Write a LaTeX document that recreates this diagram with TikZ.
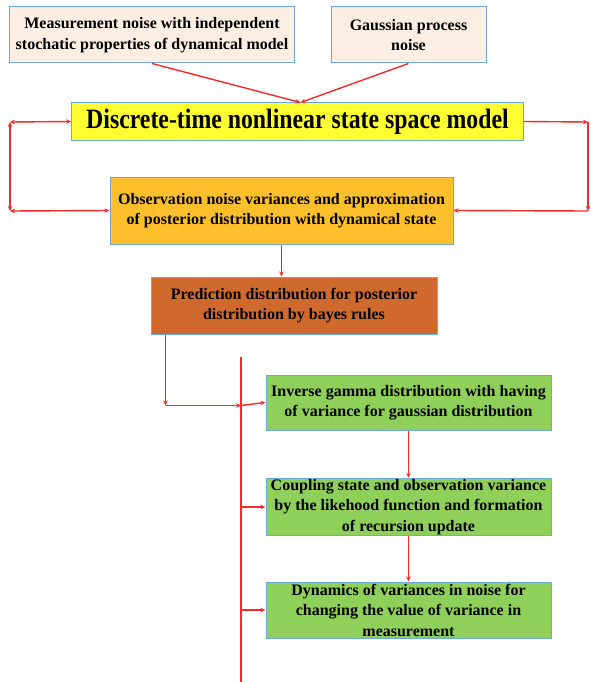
\documentclass[tikz,border=0pt]{standalone}
\usepackage{fontspec}
\setmainfont{Liberation Serif}
\newfontfamily\headfont{Liberation Serif}[FakeStretch=0.85]
\usepackage{tikz}
\usetikzlibrary{positioning,calc,arrows.meta}

\definecolor{edge}{HTML}{6FA8DC}
\definecolor{peach}{HTML}{FCEEE2}
\definecolor{lemon}{HTML}{FFFF33}
\definecolor{gold}{HTML}{FEBF2C}
\definecolor{rust}{HTML}{D06A2C}
\definecolor{leaf}{HTML}{8FD05A}
\definecolor{wire}{HTML}{F52A2A}

\tikzset{
  box/.style={draw=edge, line width=1pt, align=center, inner sep=1pt,
    font=\bfseries\fontsize{16}{20.5}\selectfont},
  wr/.style={draw=wire, line width=1.4pt},
  >={Stealth[length=5pt,width=4.5pt]}
}

\begin{document}
\begin{tikzpicture}[x=1pt,y=-1pt]
    \useasboundingbox (0,0) rectangle (590,682);
    \node[box, fill=peach, minimum width=285, minimum height=56] (meas) at (152,35)
      {Measurement noise with independent\\stochatic properties of dynamical model};
    \node[box, fill=peach, minimum width=155, minimum height=56] (gauss) at (408.5,35)
      {Gaussian process\\noise};
    \node[box, fill=lemon, minimum width=452, minimum height=37, font=\headfont\bfseries\fontsize{28}{30}\selectfont] (dtm) at (297.5,121.5)
      {Discrete-time nonlinear state space model};
    \node[box, fill=gold, minimum width=343, minimum height=67] (obs) at (281.5,210.5)
      {Observation noise variances and approximation\\of posterior distribution with dynamical state};
    \node[box, fill=rust, minimum width=286, minimum height=57] (pred) at (294,305.5)
      {Prediction distribution for posterior\\distribution by bayes rules};
    \node[box, fill=leaf, minimum width=285, minimum height=55] (inv) at (408.5,402.5)
      {Inverse gamma distribution with having\\of variance for gaussian distribution};
    \node[box, fill=leaf, minimum width=285, minimum height=56] (coup) at (408.5,507)
      {Coupling state and observation variance\\by the likehood function and formation\\of recursion update};
    \node[box, fill=leaf, minimum width=285, minimum height=56] (dyn) at (408.5,610)
      {Dynamics of variances in noise for\\changing the value of variance in\\measurement};

    % corners of the feedback loops and the bus
    \coordinate (lt) at (10,122);
    \coordinate (lb) at (10,211);
    \coordinate (rt) at (588,122);
    \coordinate (rb) at (588,211);
    \coordinate (bt) at (241,357);
    \coordinate (bb) at (241,682);

    \draw[wr,->] (meas.south) -- ([xshift=3]dtm.north);
    \draw[wr,->] (gauss.south) -- ([xshift=3]dtm.north);
    \draw[wr,<->] (dtm.west) -- (lt);
    \draw[wr,<->] (lt) -- (lb);
    \draw[wr,<->] (lb) -- (obs.west);
    \draw[wr,->] (dtm.east) -- (rt);
    \draw[wr,->] (rt) -- (rb);
    \draw[wr,->] (rb) -- (obs.east);
    \draw[wr,->] (obs.south) -- (obs.south |- pred.north);
    \draw[wr,->] ([xshift=15]pred.south west) -- ++(0,71) coordinate (pc);
    \draw[wr,->] (pc) -- (bt |- pc);
    \draw[wr,->] (bt |- pc) -- (inv.west);
    \draw[wr] (bt) -- (bb);
    \draw[wr,->] (bt |- coup.west) -- (coup.west);
    \draw[wr,->] (bt |- dyn.west) -- (dyn.west);
    \draw[wr,->] (inv) -- (coup);
    \draw[wr,->] (coup) -- (dyn);
  \end{tikzpicture}
\end{document}
